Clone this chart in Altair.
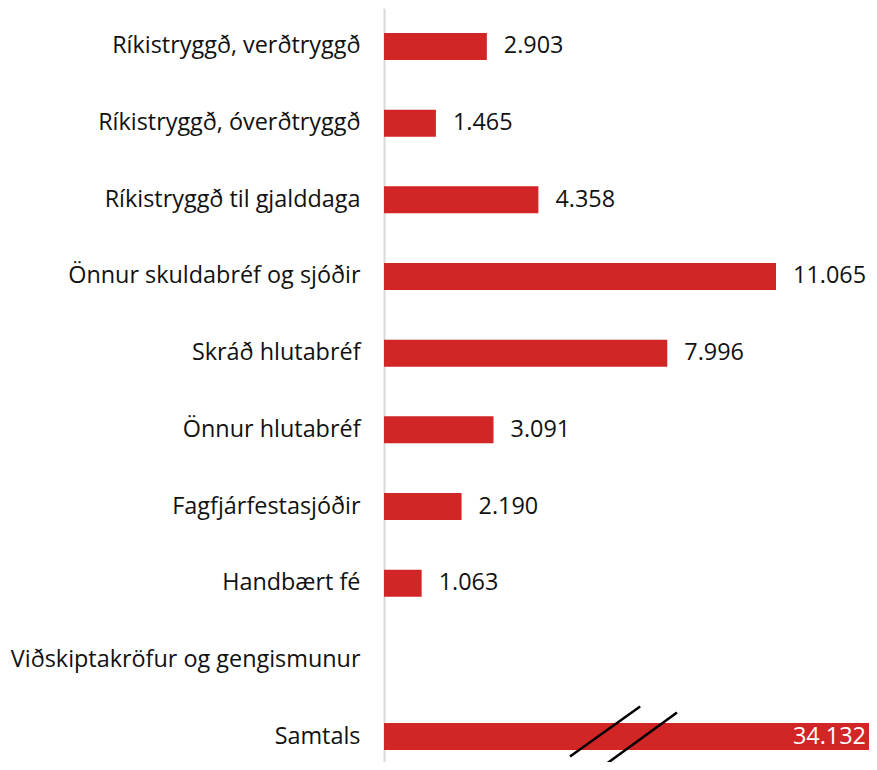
import altair as alt
import pandas as pd

categories = [
    "Ríkistryggð, verðtryggð",
    "Ríkistryggð, óverðtryggð",
    "Ríkistryggð til gjalddaga",
    "Önnur skuldabréf og sjóðir",
    "Skráð hlutabréf ",
    "Önnur hlutabréf",
    "Fagfjárfestasjóðir",
    "Handbært fé",
    "Viðskiptakröfur og gengismunur",
    "Samtals",
]
values = [2.903, 1.465, 4.358, 11.065, 7.996, 3.091, 2.190, 1.063, 0.0, 34.132]
labels = ["2.903", "1.465", "4.358", "11.065", "7.996", "3.091", "2.190", "1.063", "", "34.132"]

x_max = 13.69
break_x1 = [5.25, 6.29]
break_x2 = [7.23, 8.27]

df = pd.DataFrame({"cat": categories, "val": values, "lab": labels})
df["val_clip"] = df["val"].clip(upper=x_max)
df["is_total"] = df["cat"] == "Samtals"

brk = pd.DataFrame({"cat": ["Samtals"] * 2, "x1": break_x1, "x2": break_x2})

FONT = "Open Sans"
FS = 23.4
RED = "#D12526"

y_plain = alt.Y("cat:N", sort=categories)
y_enc = alt.Y(
    "cat:N",
    sort=categories,
    scale=alt.Scale(paddingInner=0.648, paddingOuter=0.241, align=0.676),
    axis=alt.Axis(
        title=None,
        ticks=False,
        grid=False,
        labelPadding=24,
        labelFontSize=FS,
        labelFont=FONT,
        labelColor="#111111",
        labelLimit=400,
        domainColor="#D9D9D9",
        domainWidth=2,
    ),
)
x_scale = alt.Scale(domain=[0, x_max], nice=False)
x_enc = alt.X("val_clip:Q", scale=x_scale, axis=None)

base = alt.Chart(df)
bars = base.mark_bar(color=RED).encode(y=y_enc, x=x_enc)

text_out = base.transform_filter("datum.lab != '' && !datum.is_total").mark_text(
    align="left", baseline="middle", dx=17, fontSize=FS, font=FONT, color="#111111"
).encode(y=y_plain, x=alt.X("val_clip:Q", axis=None), text="lab:N")

text_in = base.transform_filter("datum.is_total").mark_text(
    align="right", baseline="middle", dx=-3, fontSize=FS, font=FONT, color="#FFFFFF"
).encode(y=y_plain, x=alt.X("val_clip:Q", axis=None), text="lab:N")

breaks_a = alt.Chart(brk.iloc[[0]]).mark_rule(
    color="#000000", strokeWidth=2.5, yOffset=20, y2Offset=-30
).encode(x=alt.X("x1:Q", axis=None), x2="x2:Q", y=y_plain, y2="cat:N")
breaks_b = alt.Chart(brk.iloc[[1]]).mark_rule(
    color="#000000", strokeWidth=2.5, yOffset=27, y2Offset=-24
).encode(x=alt.X("x1:Q", axis=None), x2="x2:Q", y=y_plain, y2="cat:N")

chart = (
    alt.layer(bars, text_out, text_in, breaks_a, breaks_b)
    .properties(
        width=485,
        height=754,
        autosize=alt.AutoSizeParams(type="none"),
        padding={"left": 376, "top": 0, "right": 0, "bottom": 0},
    )
    .configure_view(strokeWidth=0)
)

chart.save("out.html", embed_options={"renderer": "svg", "actions": False})
